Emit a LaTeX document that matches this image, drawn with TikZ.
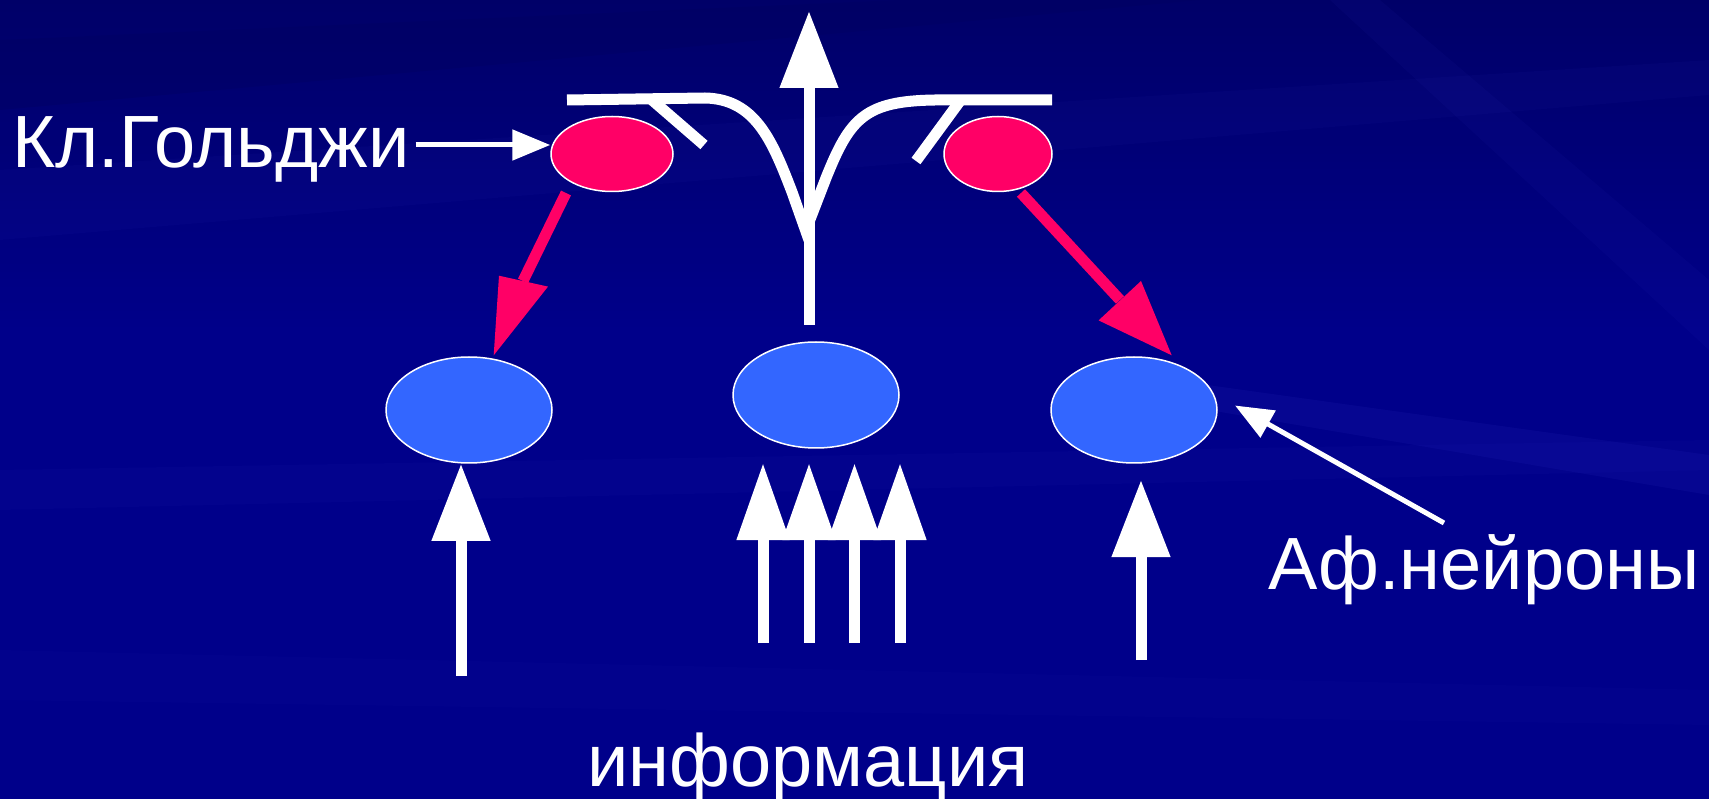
\documentclass[tikz,border=0pt]{standalone}
\usepackage{fontspec}
\setmainfont{Liberation Sans}
\usetikzlibrary{arrows.meta,shapes.geometric}
\definecolor{bgblue}{RGB}{0,0,138}
\definecolor{bgdark}{RGB}{0,0,96}
\definecolor{streak}{RGB}{60,60,210}
\definecolor{golgired}{RGB}{255,0,102}
\definecolor{cellblue}{RGB}{51,102,255}
\begin{document}
\begin{tikzpicture}[x=1pt,y=-1pt,
  lbl/.style={text=white, font=\fontsize{74}{86}\selectfont, inner sep=0pt},
  golgi/.style={ellipse, draw=white, line width=1.5pt, fill=golgired, inner sep=0pt},
  cell/.style={ellipse, draw=white, line width=1.5pt, fill=cellblue, inner sep=0pt,
               minimum width=166pt, minimum height=106pt},
  fat/.style={draw=white, line width=11pt, -{Triangle[length=77pt,width=56pt]}},
  fatnarrow/.style={draw=white, line width=11pt, -{Triangle[length=77pt,width=50pt]}},
  redarrow/.style={draw=golgired, line width=11pt},
  pointer/.style={draw=white, line width=5pt, -{Triangle[length=38pt,width=30pt]}},
  fibre/.style={draw=white, line width=11pt}]
% background with soft light streaks
\fill[bgblue] (0,0) rectangle (1709,799);
\shade[top color=bgdark, bottom color=bgblue, opacity=0.8] (0,0) rectangle (1709,330);
\useasboundingbox (0,0) rectangle (1709,799);
\fill[streak, opacity=0.05] (0,170) -- (1709,60) -- (1709,95) -- (0,240) -- cycle;
\fill[streak, opacity=0.05] (0,470) -- (1709,440) -- (1709,470) -- (0,510) -- cycle;
\fill[streak, opacity=0.10] (1100,370) -- (1709,455) -- (1709,495) -- (1150,400) -- cycle;
\fill[streak, opacity=0.06] (1380,0) -- (1709,280) -- (1709,350) -- (1330,0) -- cycle;
\fill[streak, opacity=0.04] (0,650) -- (1709,690) -- (1709,725) -- (0,700) -- cycle;
\fill[bgdark, opacity=0.35] (0,40) -- (900,0) -- (1200,0) -- (0,110) -- cycle;

% Golgi cells
\node[golgi, minimum width=122pt, minimum height=75pt] (g1) at (612,154) {};
\node[golgi, minimum width=108pt, minimum height=75pt] (g2) at (998,154) {};

% granule cells
\node[cell] (n1) at (469,410) {};
\node[cell] (n2) at (816,395) {};
\node[cell] (n3) at (1134,410) {};

% parallel fibre and ascending axon
\draw[fibre] (567,100) -- (705,98) .. controls (755,99) and (772,140) .. (792,192) -- (809,240);
\draw[fibre] (809,222) -- (826,178) .. controls (850,118) and (865,101) .. (935,100) -- (1052,100);
\draw[fibre] (652,100) -- (704,145);
\draw[fibre] (960,101) -- (916,161);
\coordinate (axbase) at (809,325);
\coordinate (axtip) at (809,11);
\draw[fat] (axbase) -- (axtip);

% Golgi inhibition
\draw[redarrow] ([shift={(-46,39)}]g1.center) -- (523,281);
\fill[golgired] ([shift={(24.7,-54.7)}]n1.center) -- (499,275.7) -- (548,286.6) -- cycle;
\draw[redarrow] ([shift={(23,39)}]g2.center) -- (1120,300);
\fill[golgired] ([shift={(37.7,-54.7)}]n3.center) -- (1141,281) -- (1098.6,320.4) -- cycle;

% mossy fibre input
\coordinate (b1) at (461,676);
\draw[fat] (b1) -- (b1 |- n1.south);
\coordinate (m1) at (763,643);
\coordinate (m2) at (809,643);
\coordinate (m3) at (854.5,643);
\coordinate (m4) at (900,643);
\coordinate (mt) at (816,463);
\draw[fatnarrow] (m1) -- (m1 |- mt);
\draw[fatnarrow] (m2) -- (m2 |- mt);
\draw[fatnarrow] (m3) -- (m3 |- mt);
\draw[fatnarrow] (m4) -- (m4 |- mt);
\coordinate (b3) at (1141,660);
\coordinate (b3t) at (1141,480);
\draw[fat] (b3) -- (b3t);

% labels
\node[lbl, anchor=base west] (gl) at (12,168) {Кл.Гольджи};
\node[lbl, anchor=base west] (af) at (1268,589) {Аф.нейроны};
\node[lbl, anchor=base] (info) at (808,786) {информация};

\coordinate (gtip) at ([yshift=9pt]g1.west);
\draw[pointer] ([xshift=6pt]gl.east |- gtip) -- (gtip);
\coordinate (afstart) at (1444,523);
\coordinate (aftip) at ([shift={(101,-4.5)}]n3.center);
\draw[pointer] (afstart) -- (aftip);
\end{tikzpicture}
\end{document}
